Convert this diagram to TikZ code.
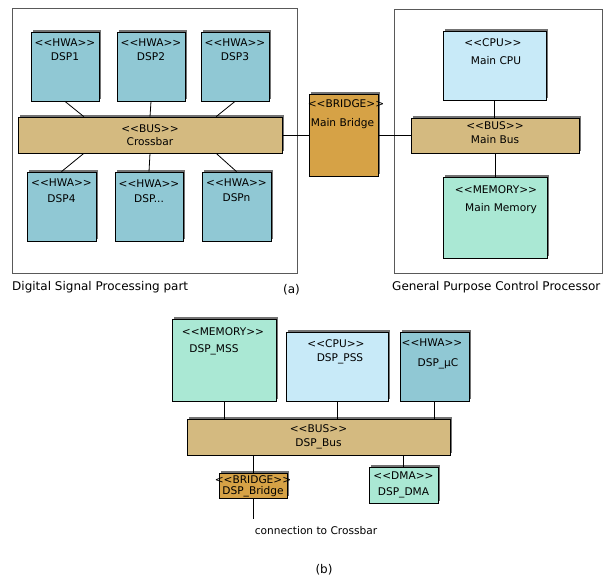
\documentclass[tikz,border=0pt]{standalone}
\usepackage{fontspec}
\setmainfont{DejaVu Sans}
\usetikzlibrary{shadows, calc}
\definecolor{hwacol}{RGB}{144,200,212}
\definecolor{buscol}{RGB}{212,186,128}
\definecolor{bridgecol}{RGB}{214,162,70}
\definecolor{cpucol}{RGB}{200,234,248}
\definecolor{memcol}{RGB}{170,232,212}
\newcommand{\stereo}[1]{<{}<#1>{}>}

\begin{document}
\begin{tikzpicture}[x=1pt, y=-1pt,
  font=\fontsize{12}{14}\selectfont,
  box/.style={draw, line width=0.8pt, inner sep=0pt,
    general shadow={fill=gray!90!black, shadow xshift=1.8pt, shadow yshift=1.8pt}},
  hwa/.style={box, fill=hwacol},
  bus/.style={box, fill=buscol},
  bridge/.style={box, fill=bridgecol},
  cpu/.style={box, fill=cpucol},
  mem/.style={box, fill=memcol},
  lab/.style={anchor=base, inner sep=0pt, font=\fontsize{10.6}{13}\selectfont},
  frame/.style={draw=gray!70!black, line width=0.8pt, inner sep=0pt},
  wire/.style={line width=0.8pt}]
  \useasboundingbox (0,0) rectangle (608,580);
  % (a) frames
  \node[frame, minimum width=285pt, minimum height=265pt] (dspframe) at (154.5,140.5) {};
  \node[frame, minimum width=208pt, minimum height=264pt] (gpframe) at (498,141) {};
  \node[anchor=base west, inner sep=0pt] (dsptitle) at (12,290.5) {Digital Signal Processing part};
  \node[anchor=base west, inner sep=0pt] (gptitle) at (392,290.5) {General Purpose Control Processor};
  \node[anchor=base, inner sep=0pt] (capa) at (291.5,294) {(a)};
  % DSP part
  \node[hwa, minimum width=68pt, minimum height=69pt,
    label={[lab, yshift=-14.8pt]north:\stereo{HWA}}, label={[lab, yshift=-28.8pt]north:DSP1}] (dsp1) at (65,66.5) {};
  \node[hwa, minimum width=68pt, minimum height=69pt,
    label={[lab, yshift=-14.8pt]north:\stereo{HWA}}, label={[lab, yshift=-28.8pt]north:DSP2}] (dsp2) at (151,66.5) {};
  \node[hwa, minimum width=68pt, minimum height=69pt,
    label={[lab, yshift=-14.8pt]north:\stereo{HWA}}, label={[lab, yshift=-28.8pt]north:DSP3}] (dsp3) at (235,66.5) {};
  \node[bus, minimum width=264pt, minimum height=36pt,
    label={[lab, yshift=-15.8pt]north:\stereo{BUS}}, label={[lab, yshift=-28.8pt]north:Crossbar}] (crossbar) at (150,135) {};
  \node[hwa, minimum width=69pt, minimum height=69pt,
    label={[lab, yshift=-14.8pt]north:\stereo{HWA}}, label={[lab, yshift=-30.8pt]north:DSP4}] (dsp4) at (61.5,206.5) {};
  \node[hwa, minimum width=68pt, minimum height=69pt,
    label={[lab, yshift=-15.8pt]north:\stereo{HWA}}, label={[lab, yshift=-30.8pt]north:DSP...}] (dspx) at (149,206.5) {};
  \node[hwa, minimum width=69pt, minimum height=69pt,
    label={[lab, yshift=-14.8pt]north:\stereo{HWA}}, label={[lab, yshift=-29.8pt]north:DSPn}] (dspn) at (236.5,206.5) {};
  % bridge and control processor
  \node[bridge, minimum width=69pt, minimum height=82pt,
    label={[lab, yshift=-13.8pt, xshift=2.5pt]north:\stereo{BRIDGE}}, label={[lab, yshift=-32.8pt, xshift=-1pt]north:Main Bridge}] (mainbridge) at (343.5,135) {};
  \node[cpu, minimum width=103pt, minimum height=69pt,
    label={[lab, yshift=-15.8pt, xshift=-1.5pt]north:\stereo{CPU}}, label={[lab, yshift=-33.8pt, xshift=1.5pt]north:Main CPU}] (maincpu) at (494.5,65.5) {};
  \node[bus, minimum width=168pt, minimum height=35pt,
    label={[lab, yshift=-11.8pt]north:\stereo{BUS}}, label={[lab, yshift=-25.8pt]north:Main Bus}] (mainbus) at (495,135.5) {};
  \node[mem, minimum width=104pt, minimum height=81pt,
    label={[lab, yshift=-16.8pt, xshift=1pt]north:\stereo{MEMORY}}, label={[lab, yshift=-34.8pt, xshift=6pt]north:Main Memory}] (mainmem) at (495,217.5) {};
  % connections (a)
  \draw[wire] (dsp1.south) -- ($(crossbar.north west)!0.25!(crossbar.north east)$);
  \draw[wire] (dsp2.south) -- (crossbar.north);
  \draw[wire] (dsp3.south) -- ($(crossbar.north west)!0.75!(crossbar.north east)$);
  \draw[wire] ($(crossbar.south west)!0.25!(crossbar.south east)$) -- (dsp4.north);
  \draw[wire] (crossbar.south) -- (dspx.north);
  \draw[wire] ($(crossbar.south west)!0.75!(crossbar.south east)$) -- (dspn.north);
  \draw[wire] (crossbar.east) -- (mainbridge.west);
  \draw[wire] (mainbridge.east) -- (mainbridge.east -| mainbus.west);
  \draw[wire] (maincpu.south) -- (maincpu.south |- mainbus.north);
  \draw[wire] (mainbus.south) -- (mainmem.north);
  % (b) inside a DSP
  \node[mem, minimum width=104pt, minimum height=82pt,
    label={[lab, yshift=-16.8pt, xshift=-1pt]north:\stereo{MEMORY}}, label={[lab, yshift=-33.8pt, xshift=-10pt]north:DSP\_MSS}] (mss) at (224,360) {};
  \node[cpu, minimum width=102pt, minimum height=69pt,
    label={[lab, yshift=-15.8pt, xshift=-1pt]north:\stereo{CPU}}, label={[lab, yshift=-29.8pt, xshift=3pt]north:DSP\_PSS}] (pss) at (337,366.5) {};
  \node[hwa, minimum width=69pt, minimum height=69pt,
    label={[lab, yshift=-14.8pt, xshift=-2.5pt]north:\stereo{HWA}}, label={[lab, yshift=-34.8pt, xshift=3.5pt]north:DSP\_µC}] (uc) at (434.5,366.5) {};
  \node[bus, minimum width=263pt, minimum height=36pt,
    label={[lab, yshift=-13.8pt]north:\stereo{BUS}}, label={[lab, yshift=-27.8pt]north:DSP\_Bus}] (dspbus) at (318.5,437) {};
  \node[bridge, minimum width=68pt, minimum height=25pt,
    label={[lab, yshift=-10.8pt]north:\stereo{BRIDGE}}, label={[lab, yshift=-21.8pt]north:DSP\_Bridge}] (dspbridge) at (253,485.5) {};
  \node[mem, minimum width=69pt, minimum height=36pt,
    label={[lab, yshift=-12.8pt]north:\stereo{DMA}}, label={[lab, yshift=-28.8pt]north:DSP\_DMA}] (dma) at (403.5,485) {};
  \coordinate (toxbar) at (253,519);
  \node[lab] (xbartext) at (316,534.5) {connection to Crossbar};
  \node[anchor=base, inner sep=0pt] (capb) at (324,573) {(b)};
  % connections (b)
  \draw[wire] (mss.south) -- (mss.south |- dspbus.north);
  \draw[wire] (pss.south) -- (pss.south |- dspbus.north);
  \draw[wire] (uc.south) -- (uc.south |- dspbus.north);
  \draw[wire] (dspbridge.north |- dspbus.south) -- (dspbridge.north);
  \draw[wire] (dspbridge.south) -- (toxbar);
  \draw[wire] (dma.north |- dspbus.south) -- (dma.north);
\end{tikzpicture}
\end{document}
